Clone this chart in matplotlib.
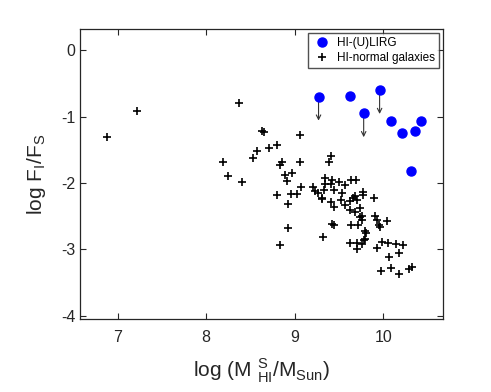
import matplotlib
matplotlib.use("Agg")
import matplotlib.pyplot as plt

plt.rcParams["font.family"] = ["Liberation Sans", "DejaVu Sans"]
plt.rcParams["mathtext.fontset"] = "custom"
plt.rcParams["mathtext.rm"] = "Liberation Sans"

# HI-(U)LIRG sample; True = upper limit (drawn with a down arrow)
lirg_x = [9.27, 9.63, 9.96, 9.78, 10.09, 10.21, 10.36, 10.43, 10.32]
lirg_y = [-0.70, -0.69, -0.60, -0.95, -1.07, -1.24, -1.21, -1.06, -1.82]
lirg_lim = [True, False, True, True, False, False, False, False, False]
arrow_len = 0.36

# HI-normal galaxies
norm_x = [6.88, 7.22, 8.37, 8.63, 8.65, 9.06, 8.19, 8.53, 8.57, 8.71, 8.80, 8.83,
          8.86, 9.06, 9.39, 9.41, 8.25, 8.40, 8.89, 8.91, 8.97, 8.80, 8.96, 9.03,
          8.93, 9.07, 8.93, 8.84, 9.32, 9.42, 9.44, 9.21, 9.23, 9.26, 9.31, 9.31,
          9.34, 9.34, 9.33, 9.42, 9.41, 9.44, 9.50, 9.57, 9.53, 9.64, 9.69, 9.41,
          9.44, 9.52, 9.57, 9.63, 9.66, 9.68, 9.70, 9.77, 9.77, 9.63, 9.68, 9.74,
          9.76, 9.90, 9.74, 9.76, 9.64, 9.72, 9.91, 9.93, 9.95, 9.96, 10.04, 9.79,
          9.81, 9.78, 9.80, 9.63, 9.70, 9.70, 9.76, 9.93, 9.99, 10.06, 10.15, 10.23,
          10.07, 10.18, 9.98, 10.09, 10.18, 10.29, 10.33]
norm_y = [-1.30, -0.91, -0.79, -1.21, -1.23, -1.27, -1.69, -1.62, -1.52, -1.47, -1.43, -1.73,
          -1.68, -1.68, -1.68, -1.60, -1.89, -1.99, -1.88, -1.97, -1.85, -2.18, -2.16, -2.16,
          -2.32, -2.06, -2.68, -2.93, -2.82, -2.62, -2.64, -2.06, -2.12, -2.15, -2.22, -2.24,
          -1.92, -2.01, -2.10, -1.96, -2.02, -2.11, -1.98, -2.03, -2.15, -1.96, -1.96, -2.29,
          -2.36, -2.26, -2.33, -2.27, -2.22, -2.19, -2.26, -2.13, -2.18, -2.41, -2.43, -2.38,
          -2.49, -2.22, -2.51, -2.56, -2.63, -2.64, -2.50, -2.55, -2.64, -2.66, -2.57, -2.73,
          -2.76, -2.86, -2.84, -2.90, -2.91, -3.00, -2.92, -2.98, -2.89, -2.91, -2.92, -2.94,
          -3.11, -3.05, -3.33, -3.28, -3.37, -3.29, -3.27]

xticks = [7, 8, 9, 10]
yticks = [0, -1, -2, -3, -4]

fig = plt.figure(figsize=(4.91, 3.92), dpi=100)
ax = fig.add_axes([0.163, 0.186, 0.739, 0.740])

for x, y, lim in zip(lirg_x, lirg_y, lirg_lim):
    if lim:
        ax.annotate("", xy=(x, y - arrow_len), xytext=(x, y),
                    arrowprops=dict(arrowstyle="->", color="#333333", lw=0.8,
                                    mutation_scale=8, shrinkA=0, shrinkB=0))

ax.plot(lirg_x, lirg_y, "o", color="#0000ff", markersize=6.5, ls="none",
        label="HI-(U)LIRG", zorder=3)
ax.plot(norm_x, norm_y, "+", color="black", markersize=6, mew=1.2, ls="none",
        label="HI-normal galaxies", zorder=3)

ax.set_xlim(6.575, 10.675)
ax.set_ylim(-4.05, 0.32)
ax.set_xticks(xticks)
ax.set_yticks(yticks)
ax.set_yticklabels([str(t) for t in yticks])
ax.tick_params(direction="in", top=True, right=True, labelsize=11.5,
               colors="#262626", length=4, width=0.8)
ax.tick_params(axis="x", pad=8)
for s in ax.spines.values():
    s.set_color("#262626")
    s.set_linewidth(0.9)

ax.set_xlabel(r"log (M $^{\rm S}_{\rm HI}$/M$_{\rm Sun}$)", fontsize=15,
              color="#262626", labelpad=8)
ax.set_ylabel(r"log F$_{\rm I}$/F$_{\rm S}$", fontsize=15, color="#262626", labelpad=9)

leg = ax.legend(loc="upper right", fontsize=8.5, frameon=True, fancybox=False,
                borderpad=0.35, handletextpad=0.5, labelspacing=0.2,
                handlelength=1.6, bbox_to_anchor=(0.99, 0.985), borderaxespad=0)
leg.get_frame().set_edgecolor("#262626")
leg.get_frame().set_linewidth(1.0)

fig.savefig("out.png", dpi=100)
